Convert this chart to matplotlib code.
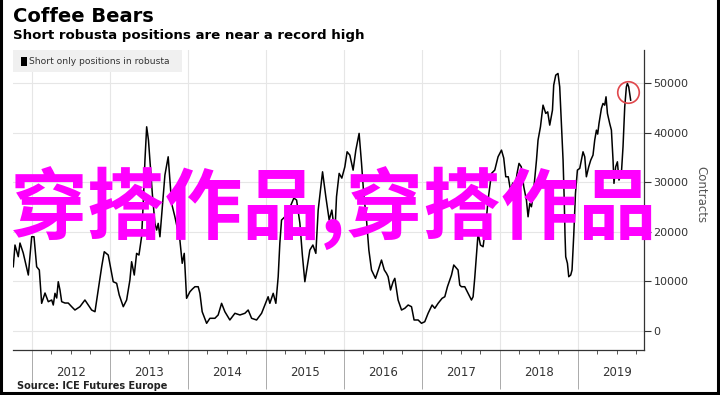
import matplotlib
matplotlib.use('Agg')
import matplotlib.pyplot as plt
from matplotlib.lines import Line2D
from matplotlib.patches import Rectangle
from matplotlib.ticker import MultipleLocator, FixedLocator

# Datos: fecha (año decimal) y contratos cortos en robusta
fechas = [2011.760, 2011.782, 2011.824, 2011.846, 2011.888, 2011.953, 2011.996, 2012.026,
          2012.060, 2012.094, 2012.124, 2012.167, 2012.209, 2012.253, 2012.273, 2012.295,
          2012.317, 2012.337, 2012.359, 2012.381, 2012.423, 2012.465, 2012.509, 2012.551,
          2012.615, 2012.679, 2012.722, 2012.765, 2012.808, 2012.850, 2012.894, 2012.927,
          2012.978, 2013.042, 2013.086, 2013.119, 2013.171, 2013.214, 2013.256, 2013.278,
          2013.312, 2013.342, 2013.372, 2013.406, 2013.429, 2013.449, 2013.471, 2013.494,
          2013.513, 2013.545, 2013.577, 2013.599, 2013.619, 2013.641, 2013.683, 2013.705,
          2013.747, 2013.791, 2013.833, 2013.897, 2013.927, 2013.953, 2013.983, 2014.026,
          2014.058, 2014.090, 2014.132, 2014.154, 2014.183, 2014.240, 2014.282, 2014.346,
          2014.388, 2014.432, 2014.474, 2014.538, 2014.603, 2014.667, 2014.731, 2014.773,
          2014.817, 2014.881, 2014.945, 2014.987, 2015.029, 2015.051, 2015.094, 2015.128,
          2015.158, 2015.179, 2015.201, 2015.244, 2015.282, 2015.321, 2015.359, 2015.394,
          2015.436, 2015.468, 2015.500, 2015.564, 2015.603, 2015.641, 2015.671, 2015.727,
          2015.769, 2015.812, 2015.846, 2015.885, 2015.906, 2015.940, 2015.974, 2016.013,
          2016.042, 2016.077, 2016.119, 2016.154, 2016.196, 2016.227, 2016.256, 2016.291,
          2016.321, 2016.355, 2016.406, 2016.442, 2016.483, 2016.519, 2016.547, 2016.568,
          2016.599, 2016.632, 2016.654, 2016.696, 2016.740, 2016.782, 2016.825, 2016.868,
          2016.901, 2016.953, 2016.996, 2017.038, 2017.081, 2017.132, 2017.167, 2017.209,
          2017.260, 2017.295, 2017.329, 2017.381, 2017.410, 2017.465, 2017.487, 2017.508,
          2017.551, 2017.594, 2017.637, 2017.658, 2017.679, 2017.709, 2017.722, 2017.752,
          2017.786, 2017.821, 2017.850, 2017.894, 2017.936, 2017.978, 2018.022, 2018.051,
          2018.077, 2018.109, 2018.137, 2018.167, 2018.192, 2018.222, 2018.247, 2018.276,
          2018.308, 2018.342, 2018.363, 2018.385, 2018.406, 2018.427, 2018.471, 2018.491,
          2018.522, 2018.555, 2018.590, 2018.615, 2018.641, 2018.676, 2018.692, 2018.718,
          2018.747, 2018.769, 2018.791, 2018.812, 2018.827, 2018.837, 2018.846, 2018.868,
          2018.885, 2018.910, 2018.927, 2018.949, 2018.971, 2018.996, 2019.026, 2019.047,
          2019.068, 2019.090, 2019.111, 2019.141, 2019.167, 2019.196, 2019.218, 2019.240,
          2019.256, 2019.273, 2019.304, 2019.324, 2019.346, 2019.363, 2019.381, 2019.410,
          2019.432, 2019.453, 2019.465, 2019.487, 2019.509, 2019.529, 2019.560, 2019.581,
          2019.603, 2019.624, 2019.637, 2019.654, 2019.679]

contratos = [12960, 17340, 14980, 17740, 15720, 11290, 19010, 19010,
             12960, 12300, 5580, 7660, 5910, 6250, 5240, 7600,
             6650, 9940, 8270, 5910, 5640, 5640, 4900, 4230,
             4900, 6250, 5240, 4230, 3890, 8270, 12960, 15990,
             15320, 9940, 9620, 7260, 4900, 6250, 10280, 13970,
             11290, 15660, 15320, 19010, 26410, 34470, 41190, 38510,
             34470, 27420, 21710, 20360, 21710, 19010, 27080, 31450,
             35140, 25740, 23040, 18350, 13650, 15660, 6590, 7920,
             8470, 8930, 8930, 7600, 3890, 1550, 2560, 2560,
             3230, 5580, 3890, 2220, 3570, 3230, 3570, 4230,
             2560, 2220, 3570, 5240, 6910, 5580, 7600, 5580,
             10950, 17680, 22380, 23040, 24390, 25400, 26810, 26410,
             21770, 15320, 9940, 16330, 17340, 15660, 24390, 32110,
             27080, 22380, 24390, 19700, 27080, 31790, 30840, 33120,
             36150, 35480, 32450, 36490, 39860, 33810, 27420, 22380,
             16330, 12300, 10620, 12300, 14310, 12300, 11630, 10950,
             8270, 9940, 10620, 6250, 4230, 4580, 5240, 4900,
             2220, 2220, 1550, 1870, 3570, 5240, 4580, 5580,
             6590, 6910, 8930, 11290, 13310, 12300, 9270, 8930,
             8930, 7600, 6250, 6910, 10690, 16990, 19700, 17340,
             16990, 21370, 26410, 31790, 32460, 35140, 36490, 34880,
             31110, 31110, 28430, 29840, 28430, 31790, 33810, 33120,
             29090, 26410, 23040, 25740, 25060, 27080, 34470, 38510,
             41190, 45560, 43890, 44210, 41530, 44550, 49590, 51610,
             51950, 49250, 41870, 34470, 26410, 19350, 14980, 13650,
             10950, 11290, 12300, 19350, 27760, 32460, 32800, 34470,
             36150, 35140, 31110, 33120, 34470, 35480, 38510, 40520,
             39720, 41870, 44900, 45900, 45560, 47240, 43890, 41870,
             40520, 34470, 29780, 33120, 34130, 30440, 31790, 37160,
             45220, 49250, 49930, 49250, 46570]

anios = [2012, 2013, 2014, 2015, 2016, 2017, 2018, 2019]
marcas_y = [0, 10000, 20000, 30000, 40000, 50000]
circulo_fecha = 2019.641
circulo_valor = 48180

# Figura
fig = plt.figure(figsize=(7.2, 3.95), dpi=100)
ax = fig.add_axes([0.018, 0.114, 0.876, 0.759])

ax.plot(fechas, contratos, color='black', linewidth=1.1, zorder=3)
ax.plot([circulo_fecha], [circulo_valor], marker='o', markersize=15.5,
        markerfacecolor='none', markeredgecolor='#e0474c', markeredgewidth=1.2, zorder=4)

ax.set_xlim(2011.756, 2019.846)
ax.set_ylim(-3830, 56650)

# Ejes y grilla
for s in ['left', 'top']:
    ax.spines[s].set_visible(False)
for s in ['right', 'bottom']:
    ax.spines[s].set_color('#333333')
    ax.spines[s].set_linewidth(0.9)

ax.yaxis.tick_right()
ax.set_yticks(marcas_y)
ax.set_yticklabels([str(v) for v in marcas_y])
ax.tick_params(axis='y', labelsize=8, colors='#333333', length=5, width=0.8, pad=2)

ax.xaxis.set_major_locator(FixedLocator(anios))
ax.xaxis.set_minor_locator(MultipleLocator(0.25))
ax.set_xticklabels([])
ax.tick_params(axis='x', which='major', length=28, width=0.7, color='#aaaaaa')
ax.tick_params(axis='x', which='minor', length=3, width=0.7, color='#555555')

ax.grid(True, which='major', color='#e6e6e6', linewidth=0.8, zorder=0)
ax.set_axisbelow(True)

for a in anios:
    ax.text(a + 0.5, -0.075, str(a), transform=ax.get_xaxis_transform(),
            ha='center', va='center', fontsize=8.5, color='#333333')

ax.text(1.09, 0.52, 'Contracts', transform=ax.transAxes, rotation=-90,
        ha='center', va='center', fontsize=8.5, color='#555555')

# Leyenda
ax.add_patch(Rectangle((0.0, 0.927), 0.268, 0.073, transform=ax.transAxes,
                       facecolor='#f0f0f0', edgecolor='none', zorder=1))
ax.add_patch(Rectangle((0.013, 0.948), 0.009, 0.03, transform=ax.transAxes,
                       facecolor='black', edgecolor='none', zorder=2))
ax.text(0.026, 0.963, 'Short only positions in robusta', transform=ax.transAxes,
        ha='left', va='center', fontsize=6.6, color='#333333', zorder=2)

# Titulos
fig.text(0.018, 0.957, 'Coffee Bears', fontsize=14, fontweight='bold', ha='left', va='center')
fig.text(0.018, 0.909, 'Short robusta positions are near a record high', fontsize=9.6,
         fontweight='bold', ha='left', va='center')
fig.text(0.024, 0.023, 'Source: ICE Futures Europe', fontsize=7, fontweight='bold',
         ha='left', va='center', color='#222222')

# Texto superpuesto
fig.text(0.463, 0.472, '穿搭作品,穿搭作品', fontsize=56, color='#ff00ff', fontweight='bold',
         family=['Noto Sans CJK SC', 'DejaVu Sans'], ha='center', va='center', zorder=10)

# Marco
for coords in [([0.002, 0.002], [0, 1]), ([0, 1], [0.006, 0.006]), ([0.997, 0.997], [0, 1])]:
    fig.add_artist(Line2D(coords[0], coords[1], color='black', linewidth=2.2,
                          transform=fig.transFigure))

fig.savefig('out.png', dpi=100)
